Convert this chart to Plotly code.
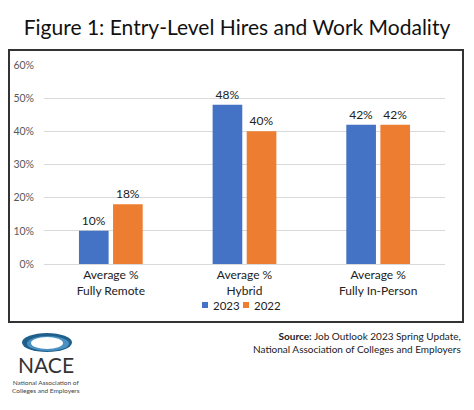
import plotly.graph_objects as go

categories = ["Average %<br>Fully Remote", "Average %<br>Hybrid", "Average %<br>Fully In-Person"]
series_names = ["2023", "2022"]
values_2023 = [0.10, 0.48, 0.42]
values_2022 = [0.18, 0.40, 0.42]
tick_vals = [0, 0.1, 0.2, 0.3, 0.4, 0.5, 0.6]
tick_text = ["0%", "10%", "20%", "30%", "40%", "50%", "60%"]

W, H = 474, 410
L, R, T, B = 44, 445, 65, 264  # plot area in pixels

def px(x):
    return (x - L) / (R - L)

def py(y):
    return (B - y) / (B - T)

FONT = "Lato"
BLUE = "#4472C4"
ORANGE = "#ED7D31"
colors = [BLUE, ORANGE]

fig = go.Figure()
for name, vals, col in zip(series_names, [values_2023, values_2022], colors):
    fig.add_trace(go.Bar(
        x=categories, y=vals, name=name, marker=dict(color=col, line=dict(width=0)),
        texttemplate="%{y:.0%}", textposition="outside",
        textfont=dict(size=12, color="#222222", family=FONT),
        cliponaxis=False, showlegend=False,
    ))

fig.update_layout(
    width=W, height=H,
    margin=dict(l=L, r=W - R, t=T, b=H - B, pad=0),
    paper_bgcolor="white", plot_bgcolor="white",
    font=dict(family=FONT, color="#222222"),
    barmode="group", bargap=0.49, bargroupgap=0.13,
    xaxis=dict(showgrid=False, showline=False, zeroline=False, ticks="",
               ticklabelstandoff=2,
               tickfont=dict(size=12, color="#222222", family=FONT), fixedrange=True),
    yaxis=dict(range=[0, 0.6], tickvals=tick_vals, ticktext=tick_text,
               showgrid=True, gridcolor="#D9D9D9", gridwidth=1,
               zeroline=True, zerolinecolor="#D9D9D9", zerolinewidth=1,
               showline=False, ticks="", ticklabelstandoff=9,
               tickfont=dict(size=10.5, color="#595959", family=FONT)),
    title=dict(text="Figure 1: Entry-Level Hires and Work Modality", x=0.5, xref="container",
               xanchor="center", y=1 - 28 / H, yanchor="middle",
               font=dict(size=21, color="#111111", family=FONT)),
)

shapes = [
    dict(type="rect", xref="paper", yref="paper", x0=px(9), x1=px(463), y0=py(50), y1=py(322),
         line=dict(color="#333333", width=2), fillcolor="rgba(0,0,0,0)", layer="below"),
    # NACE logo swoosh
    dict(type="circle", xref="paper", yref="paper", x0=px(22), x1=px(72), y0=py(352), y1=py(333),
         line=dict(width=0), fillcolor="#1F5F8B"),
    dict(type="circle", xref="paper", yref="paper", x0=px(27), x1=px(69), y0=py(351), y1=py(336),
         line=dict(width=0), fillcolor="#4A90C0"),
    dict(type="circle", xref="paper", yref="paper", x0=px(31), x1=px(63), y0=py(349), y1=py(337),
         line=dict(width=0), fillcolor="white"),
]

annotations = [
    dict(text="<b>Source:</b> Job Outlook 2023 Spring Update,<br>National Association of Colleges and Employers",
         xref="paper", yref="paper", x=px(463), y=py(342), xanchor="right", yanchor="middle",
         align="right", showarrow=False, font=dict(size=10, color="#222222", family=FONT)),
    dict(text="NACE", xref="paper", yref="paper", x=px(46), y=py(364), xanchor="center", yanchor="middle",
         showarrow=False, font=dict(size=21, color="#333333", family="Lato")),
    dict(text="National Association of<br>Colleges and Employers", xref="paper", yref="paper",
         x=px(46), y=py(386), xanchor="center", yanchor="middle", showarrow=False,
         font=dict(size=6.5, color="#444444", family=FONT)),
]

# manual legend
legend_x = [202, 243]
for name, col, lx in zip(series_names, colors, legend_x):
    shapes.append(dict(type="rect", xref="paper", yref="paper", x0=px(lx), x1=px(lx + 6),
                       y0=py(308), y1=py(302), line=dict(width=0), fillcolor=col))
    annotations.append(dict(text=name, xref="paper", yref="paper", x=px(lx + 9), y=py(305),
                            xanchor="left", yanchor="middle", showarrow=False,
                            font=dict(size=11.5, color="#222222", family=FONT)))

fig.update_layout(shapes=shapes, annotations=annotations)

fig.write_html("out.html", config={"displayModeBar": False},
               post_script="document.body.style.margin='0';")
